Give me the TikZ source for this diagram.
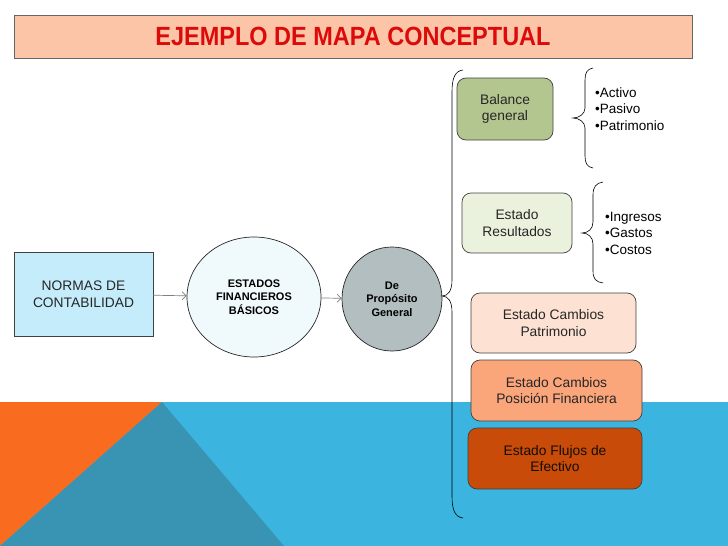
\documentclass[tikz,border=0pt]{standalone}
\usepackage{fontspec}
\setmainfont{Liberation Sans}
\usetikzlibrary{arrows.meta, positioning, shapes.geometric}

\definecolor{titlefill}{HTML}{FCC5A8}
\definecolor{titlered}{HTML}{DD0A0A}
\definecolor{normasfill}{HTML}{C5ECFB}
\definecolor{estadosfill}{HTML}{F0FAFD}
\definecolor{propfill}{HTML}{B3BEC0}
\definecolor{balancefill}{HTML}{B4C68F}
\definecolor{resultfill}{HTML}{EAF1DD}
\definecolor{patrimfill}{HTML}{FDE2D3}
\definecolor{posicionfill}{HTML}{FBA57B}
\definecolor{flujosfill}{HTML}{C84B09}
\definecolor{bandblue}{HTML}{3CB4E0}
\definecolor{bandteal}{HTML}{3994B3}
\definecolor{bandorange}{HTML}{F96C1F}

\begin{document}
\begin{tikzpicture}[x=1pt, y=-1pt,
  box/.style={draw=black!75, line width=0.7pt, align=center, inner sep=0pt, text=black!85,
    font=\fontsize{13.8}{16.8}\selectfont},
  rbox/.style={box, rounded corners=9pt},
  ball/.style={ellipse, draw=black!85, line width=0.7pt, align=center, inner sep=0pt,
    font=\bfseries\fontsize{11}{13.5}\selectfont},
  link/.style={-{Straight Barb[length=4pt, width=8pt]}, draw=gray, line width=0.7pt},
  brace/.style={line width=0.6pt},
  items/.style={align=left, anchor=west, inner sep=0pt, font=\fontsize{13.5}{16.5}\selectfont}
]
\useasboundingbox (0,0) rectangle (728,546);
% bottom band
\fill[bandblue] (0,402) rectangle (728,546);
\fill[bandorange] (0,402) -- (162,402) -- (0,546) -- cycle;
\fill[bandteal] (162,402) -- (0,546) -- (284,546) -- cycle;

\node[draw=black!60, line width=1pt, fill=titlefill, minimum width=678pt, minimum height=43pt, inner sep=0pt,
  text=titlered, font=\bfseries\fontsize{23.5}{26}\selectfont] (titulo) at (353,36.5)
  {\scalebox{1}[1.12]{EJEMPLO DE MAPA CONCEPTUAL}};

\node[box, fill=normasfill, minimum width=139pt, minimum height=84pt] (normas) at (83.5,294) {NORMAS DE\\CONTABILIDAD};
\node[ball, fill=estadosfill, minimum width=134pt, minimum height=120pt] (estados) at (254,297) {ESTADOS\\FINANCIEROS\\BÁSICOS};
\node[ball, fill=propfill, minimum width=100pt, minimum height=104pt] (proposito) at (392,299) {De\\Propósito\\General};
\draw[link] (normas) -- (estados);
\draw[link] (estados) -- (proposito);

\node[rbox, fill=balancefill, minimum width=96pt, minimum height=62pt] (balance) at (505,109) {Balance\\general};
\node[rbox, fill=resultfill, minimum width=110pt, minimum height=60pt] (resultados) at (517,223) {Estado\\Resultados};
\node[rbox, fill=patrimfill, minimum width=165pt, minimum height=60pt] (patrimonio) at (553.5,323) {Estado Cambios\\Patrimonio};
\node[rbox, fill=posicionfill, minimum width=171pt, minimum height=61pt] (posicion) at (556.5,390.5) {Estado Cambios\\Posición Financiera};
\node[rbox, fill=flujosfill, minimum width=174pt, minimum height=61pt, text=black!90!brown] (flujos) at (555,458.5) {Estado Flujos de\\Efectivo};

\node[items] (activos) at (595,109) {•Activo\\•Pasivo\\•Patrimonio};
\node[items] (ingresos) at (605,233) {•Ingresos\\•Gastos\\•Costos};

% braces
\draw[brace] (463,70) .. controls (455,71) and (452,78) .. (452,92) -- (452,280)
  .. controls (452,291) and (448,296) .. (442,296) .. controls (448,296) and (452,301) .. (452,312)
  -- (452,496) .. controls (452,510) and (455,517) .. (463,518);
\draw[brace] (593,68) .. controls (587,69) and (585,73) .. (585,80) -- (585,108)
  .. controls (585,114) and (579,118) .. (573,118) .. controls (579,118) and (585,122) .. (585,128)
  -- (585,156) .. controls (585,163) and (587,167) .. (593,168);
\draw[brace] (603,182) .. controls (596,183) and (593,187) .. (593,195) -- (593,222)
  .. controls (593,229) and (588,233) .. (582,233) .. controls (588,233) and (593,237) .. (593,244)
  -- (593,271) .. controls (593,279) and (596,282) .. (603,283);
\end{tikzpicture}
\end{document}
